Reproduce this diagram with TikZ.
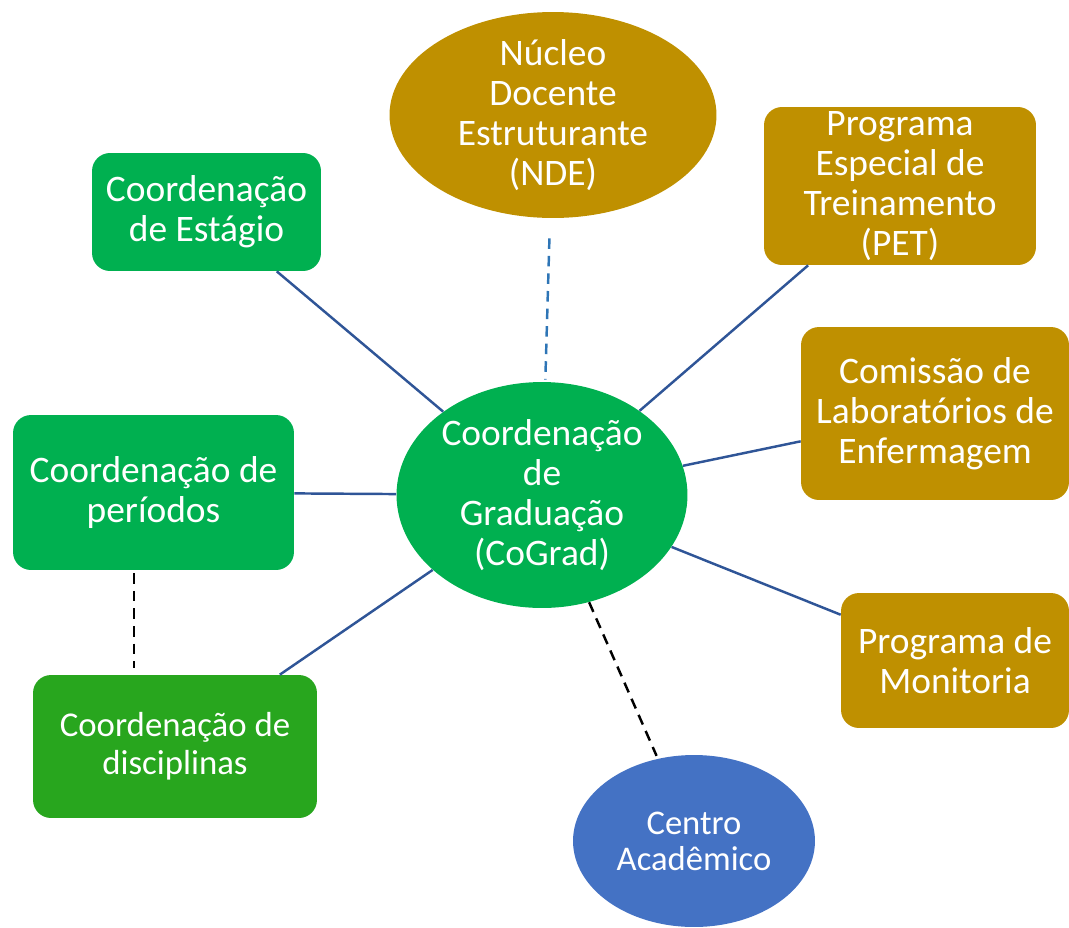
\documentclass[tikz,border=0pt]{standalone}
\usepackage{fontspec}
\setmainfont{Carlito}
\usetikzlibrary{shapes.geometric}
\definecolor{verde}{HTML}{00B050}
\definecolor{verdeesc}{RGB}{40,166,30}
\definecolor{ouro}{HTML}{BF9000}
\definecolor{azul}{HTML}{4472C4}
\definecolor{linha}{HTML}{2F5597}
\definecolor{linhaclara}{HTML}{2E75B6}
\begin{document}
\begin{tikzpicture}[x=0.02cm,y=-0.02cm,
    caixa/.style={rectangle, rounded corners=0.36cm, text=white, align=center, inner sep=0pt, font=\fontsize{21.3}{22.7}\selectfont},
    bola/.style={ellipse, text=white, align=center, inner sep=-3pt, font=\fontsize{21.3}{22.7}\selectfont},
    ligacao/.style={linha, line width=1.4pt},
    tracejado/.style={line width=1.4pt, dash pattern=on 6pt off 4pt}]
    \useasboundingbox (0,0) rectangle (1069,927);
    % nos
    \node[bola, fill=verde, minimum width=5.82cm, minimum height=4.52cm] (cograd) at (542,495) {Coordenação\\de\\Graduação\\(CoGrad)}; %centro
    \node[bola, fill=ouro, minimum width=6.54cm, minimum height=4.12cm] (nde) at (553,115) {Núcleo\\Docente\\Estruturante\\(NDE)};
    \node[bola, fill=azul, minimum width=4.84cm, minimum height=3.44cm, font=\fontsize{19.7}{20.4}\selectfont] (ca) at (694,841) {Centro\\Acadêmico};
    \node[caixa, fill=verde, minimum width=4.58cm, minimum height=2.36cm] (estagio) at (206.5,212) {Coordenação\\de Estágio};
    \node[caixa, fill=verde, minimum width=5.62cm, minimum height=3.1cm] (periodos) at (153.5,492.5) {Coordenação de\\períodos};
    \node[caixa, fill=verdeesc, minimum width=5.68cm, minimum height=2.86cm, font=\fontsize{19.8}{21.5}\selectfont] (disc) at (175,746.5) {Coordenação de\\disciplinas};
    \node[caixa, fill=ouro, minimum width=5.44cm, minimum height=3.16cm] (pet) at (900,186) {Programa\\Especial de\\Treinamento\\(PET)};
    \node[caixa, fill=ouro, minimum width=5.36cm, minimum height=3.46cm] (lab) at (935,413.5) {Comissão de\\Laboratórios de\\Enfermagem};
    \node[caixa, fill=ouro, minimum width=4.56cm, minimum height=2.7cm] (monit) at (955,660.5) {Programa de\\Monitoria};
    \coordinate (eixo) at (134,0);
    % ligacoes
    \draw[ligacao] (estagio) -- (cograd);
    \draw[ligacao] (periodos) -- (cograd);
    \draw[ligacao] (disc) -- (cograd);
    \draw[ligacao] (pet) -- (cograd);
    \draw[ligacao] (lab) -- (cograd);
    \draw[ligacao] (monit) -- (cograd);
    \draw[tracejado, linhaclara, shorten <=0.4cm, shorten >=0.04cm] (nde) -- (cograd); %NDE
    \draw[tracejado, shorten <=0.06cm, shorten >=0.14cm] (periodos.south -| eixo) -- (disc.north -| eixo);
    \draw[tracejado, shorten >=0.06cm] (cograd) -- (ca);
\end{tikzpicture}
\end{document}
